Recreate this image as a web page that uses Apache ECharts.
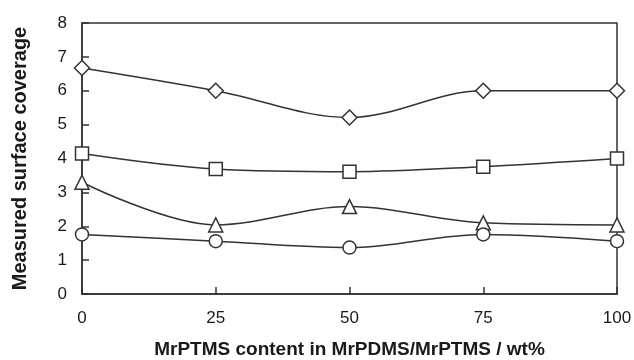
<!DOCTYPE html>
<html>
<head>
<meta charset="utf-8">
<script src="https://cdn.jsdelivr.net/npm/echarts@6/dist/echarts.min.js"></script>
<style>
  html, body { margin: 0; padding: 0; background: #fff; }
  #main { width: 634px; height: 360px; }
</style>
</head>
<body>
<div id="main"></div>
<script>
const xValues = [0, 25, 50, 75, 100];
const diamondValues = [6.67, 6.0, 5.21, 6.0, 6.0];
const squareValues = [4.15, 3.69, 3.61, 3.76, 4.0];
const triangleValues = [3.3, 2.04, 2.58, 2.1, 2.04];
const circleValues = [1.76, 1.56, 1.37, 1.76, 1.56];

const lineColor = '#333';
const textColor = '#1a1a1a';

function makeSeries(name, values, symbol, size) {
  return {
    name: name,
    type: 'line',
    smooth: 0.35,
    data: xValues.map((x, i) => [x, values[i]]),
    symbol: symbol,
    symbolSize: size,
    showAllSymbol: true,
    lineStyle: {color: lineColor, width: 1.5},
    itemStyle: {color: '#fff', borderColor: lineColor, borderWidth: 1.5},
    emphasis: {disabled: true},
    z: 3
  };
}

const chart = echarts.init(document.getElementById('main'));
const option = {
  animation: false,
  grid: {
    left: 82, right: 17, top: 23, bottom: 66,
    containLabel: false,
    outerBoundsMode: 'none',
    show: true, borderColor: lineColor, borderWidth: 1.5
  },
  xAxis: {
    type: 'value',
    min: 0, max: 100, interval: 25,
    name: 'MrPTMS content in MrPDMS/MrPTMS / wt%',
    nameLocation: 'middle',
    nameGap: 46,
    nameTextStyle: {fontFamily: 'Liberation Sans', fontWeight: 'bold', fontSize: 19, color: textColor},
    axisLine: {lineStyle: {color: lineColor, width: 1.5}},
    axisTick: {inside: true, length: 7, lineStyle: {color: lineColor, width: 1.5}},
    axisLabel: {margin: 16, fontFamily: 'Liberation Sans', fontSize: 17, color: textColor},
    splitLine: {show: false}
  },
  yAxis: {
    type: 'value',
    min: 0, max: 8, interval: 1,
    name: 'Measured surface coverage',
    nameLocation: 'middle',
    nameGap: 52,
    nameTextStyle: {fontFamily: 'Liberation Sans', fontWeight: 'bold', fontSize: 20, color: textColor},
    axisLine: {show: true, lineStyle: {color: lineColor, width: 1.5}},
    axisTick: {show: true, inside: true, length: 7, lineStyle: {color: lineColor, width: 1.5}},
    axisLabel: {margin: 15, fontFamily: 'Liberation Sans', fontSize: 17, color: textColor},
    splitLine: {show: false}
  },
  series: [
    makeSeries('diamond', diamondValues, 'diamond', 15),
    makeSeries('square', squareValues, 'rect', 13),
    makeSeries('triangle', triangleValues, 'triangle', 14),
    makeSeries('circle', circleValues, 'circle', 13)
  ]
};
chart.setOption(option);
</script>
</body>
</html>
